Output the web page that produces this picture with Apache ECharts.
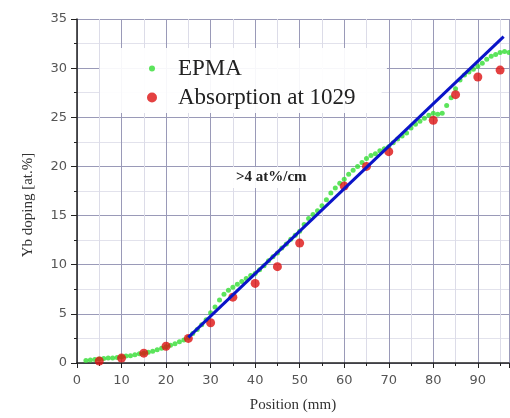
<!DOCTYPE html>
<html><head><meta charset="utf-8">
<script src="https://cdn.jsdelivr.net/npm/echarts@6/dist/echarts.min.js"></script>
<style>html,body{margin:0;padding:0;background:#fff}#c{width:510px;height:418px}</style>
</head><body><div id="c"></div><script>
const epmaX = [2,3,4,5,6,7,8,9,10,11,12,13,14,15,16,17,18,19,20,21,22,23,24,25,26,27,28,29,30,31,32,33,34,35,36,37,38,39,40,41,42,43,44,45,46,47,48,49,50,51,52,53,54,55,56,57,58,59,60,61,62,63,64,65,66,67,68,69,70,71,72,73,74,75,76,77,78,79,80,81,82,83,84,85,86,87,88,89,90,91,92,93,94,95,96,97];
const epmaY = [0.25,0.3,0.35,0.4,0.45,0.5,0.5,0.55,0.6,0.7,0.75,0.85,0.95,1.0,1.1,1.2,1.35,1.5,1.65,1.8,1.95,2.15,2.35,2.6,3.0,3.4,3.9,4.4,5.1,5.7,6.4,7.0,7.4,7.7,8.0,8.3,8.6,8.9,9.1,9.5,9.9,10.4,10.8,11.2,11.7,12.1,12.6,13.0,13.4,14.1,14.7,15.1,15.5,16.0,16.6,17.3,17.8,18.3,18.7,19.2,19.6,20.0,20.4,20.8,21.1,21.3,21.6,21.8,22.0,22.4,22.8,23.1,23.4,23.9,24.3,24.6,24.9,25.2,25.4,25.3,25.4,26.2,27.0,27.9,28.8,29.3,29.6,29.9,30.2,30.5,30.9,31.2,31.4,31.6,31.7,31.6];
const absX = [5,10,15,20,25,30,35,40,45,50,60,65,70,80,85,90,95];
const absY = [0.2,0.5,1.0,1.7,2.5,4.1,6.7,8.1,9.8,12.2,18.0,20.0,21.5,24.7,27.3,29.1,29.8];
const fitX = [25, 95.8];
const fitY = [2.6, 33.2];
const seriesNames = ['EPMA', 'Absorption at 1029'];
const slopeLabel = '>4 at%/cm';
const xTitle = 'Position (mm)';
const yTitle = 'Yb doping [at.%]';

const zip = (a, b) => a.map((v, i) => [v, b[i]]);
const chart = echarts.init(document.getElementById('c'), null, {renderer: 'canvas'});
const tickFont = {fontFamily: 'DejaVu Sans', fontSize: 13, color: '#555'};
const serif = 'Liberation Serif';
chart.setOption({
  animation: false,
  backgroundColor: '#fff',
  grid: {left: 77, right: 1, top: 19, bottom: 49},
  xAxis: {
    type: 'value', min: 0, max: 97, interval: 10,
    name: xTitle, nameLocation: 'middle', nameGap: 35,
    nameTextStyle: {fontFamily: serif, fontSize: 15, color: '#333'},
    axisLine: {show: true, lineStyle: {color: '#222', width: 1.5}},
    axisTick: {show: true, length: 5, lineStyle: {color: '#222'}},
    minorTick: {show: true, splitNumber: 2, length: 3, lineStyle: {color: '#222'}},
    axisLabel: Object.assign({margin: 11, showMaxLabel: false}, tickFont),
    splitLine: {show: true, lineStyle: {color: '#9a9ab8', width: 1}},
    minorSplitLine: {show: true, lineStyle: {color: '#dcdce8', width: 1}}
  },
  yAxis: {
    type: 'value', min: 0, max: 35, interval: 5,
    axisLine: {show: true, lineStyle: {color: '#222', width: 1.5}},
    axisTick: {show: true, length: 6, lineStyle: {color: '#222'}},
    minorTick: {show: true, splitNumber: 2, length: 3, lineStyle: {color: '#222'}},
    axisLabel: Object.assign({margin: 10}, tickFont),
    splitLine: {show: true, lineStyle: {color: '#9a9ab8', width: 1}},
    minorSplitLine: {show: true, lineStyle: {color: '#e2e2ec', width: 1}}
  },
  legend: [
    {
      data: [{name: seriesNames[0], icon: 'circle'}],
      left: 100, top: 48, itemWidth: 6, itemHeight: 6,
      padding: [9, 145, 3, 49],
      backgroundColor: 'rgba(255,255,255,0.92)',
      textStyle: {fontFamily: serif, fontSize: 23, color: '#222', padding: [0, 0, 0, 18]}
    },
    {
      data: [{name: seriesNames[1], icon: 'circle'}],
      left: 100, top: 83, itemWidth: 10, itemHeight: 10,
      padding: [3, 26, 4, 47],
      backgroundColor: 'rgba(255,255,255,0.92)',
      textStyle: {fontFamily: serif, fontSize: 23, color: '#222', padding: [0, 0, 0, 16]}
    }
  ],
  graphic: [
    {
      type: 'text', left: 232, top: 167, z: 10,
      style: {text: slopeLabel, font: 'bold 15px "Liberation Serif"', fill: '#222',
        backgroundColor: 'rgba(255,255,255,0.92)', padding: [3, 4, 3, 4]}
    },
    {
      type: 'text', x: 28, y: 205, rotation: Math.PI / 2, z: 10,
      style: {text: yTitle, font: '15px "Liberation Serif"', fill: '#333',
        align: 'center', verticalAlign: 'middle'}
    }
  ],
  series: [
    {
      name: seriesNames[0], type: 'scatter', data: zip(epmaX, epmaY),
      symbol: 'circle', symbolSize: 5, itemStyle: {color: '#33dd33'}, z: 3
    },
    {
      name: seriesNames[1], type: 'scatter', data: zip(absX, absY),
      symbol: 'circle', symbolSize: 9, itemStyle: {color: '#dd1111'}, z: 4
    },
    {
      name: 'fit', type: 'line', data: zip(fitX, fitY), showSymbol: false,
      lineStyle: {color: '#0a14c8', width: 3}, z: 5
    }
  ]
});
</script></body></html>
